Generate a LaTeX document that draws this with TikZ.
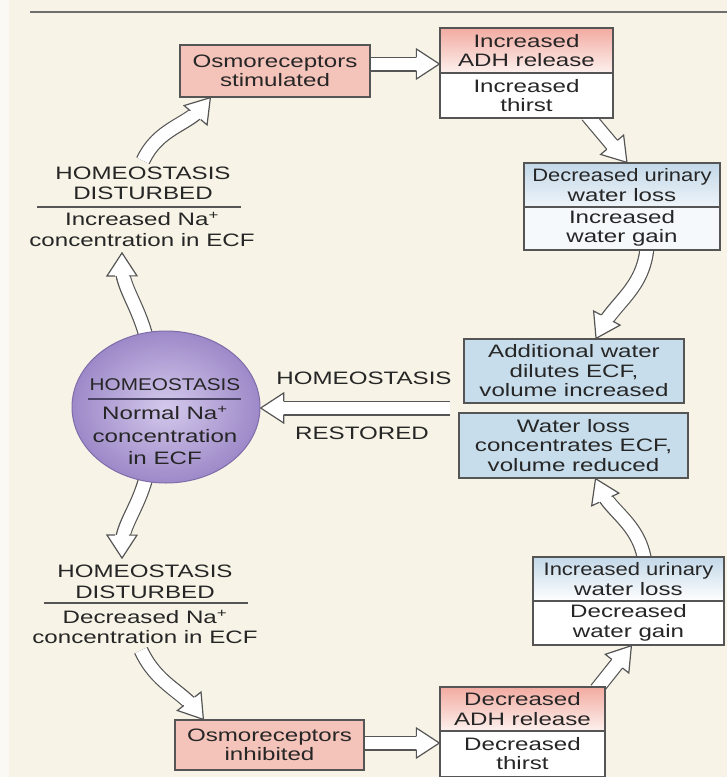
\documentclass[tikz,border=0pt]{standalone}
\usepackage{fontspec}
\setmainfont[FakeStretch=1.34]{Liberation Sans}
\newfontfamily\narrowfont[FakeStretch=1.22]{Liberation Sans}
\usetikzlibrary{shapes.geometric,decorations.markings,calc}
\definecolor{bgc}{HTML}{F7F3E6}
\definecolor{edgec}{HTML}{FBF9F3}
\definecolor{linec}{HTML}{555555}
\definecolor{rulec}{HTML}{6E6E6E}
\definecolor{txtc}{HTML}{262626}
\definecolor{pinkc}{HTML}{F4C3B9}
\definecolor{pinktop}{HTML}{F2ABA1}
\definecolor{pinklow}{HTML}{FDF1EE}
\definecolor{bluec}{HTML}{C8DDEB}
\definecolor{bluetop}{HTML}{C3D8E8}
\definecolor{bluelow}{HTML}{EEF4F9}
\definecolor{paleblue}{HTML}{F5F9FC}
\definecolor{purin}{HTML}{D4C9EC}
\definecolor{purout}{HTML}{9D89C8}
\definecolor{purline}{HTML}{7F6DAA}
\definecolor{purrule}{HTML}{4B4466}
\definecolor{arrline}{HTML}{555555}
\pgfdeclarelayer{back}
\pgfdeclarelayer{arr}
\pgfsetlayers{back,arr,main}
\tikzset{
  box/.style={draw=linec, line width=1.1pt, inner sep=0pt, align=center, text=txtc,
    font=\fontsize{18}{19.5}\selectfont},
  pinkbox/.style={box, fill=pinkc},
  bluebox/.style={box, fill=bluec},
  whitebox/.style={box, fill=white},
  txt/.style={inner sep=0pt, align=center, text=txtc, font=\fontsize{18}{20.5}\selectfont},
  barrow/.style={
    preaction={draw=arrline, line width=15pt, shorten >=13pt},
    preaction={draw=white, line width=12.6pt, shorten >=12pt},
    postaction={decorate, decoration={markings, mark=at position 0.999 with {
      \fill[white] (-23pt,-15pt) -- (0pt,0pt) -- (-23pt,15pt) -- cycle;
      \draw[arrline, line width=1.2pt, line join=miter]
        (-23pt,-6.9pt) -- (-23pt,-15pt) -- (0pt,0pt) -- (-23pt,15pt) -- (-23pt,6.9pt);
    }}}
  }
}
\begin{document}
\begin{tikzpicture}[x=1pt,y=-1pt]
\useasboundingbox (0,0) rectangle (727,777);
\begin{pgfonlayer}{back}
  \fill[bgc] (0,0) rectangle (727,777);
  \fill[edgec] (0,0) rectangle (9,777);
\end{pgfonlayer}
\draw[rulec, line width=2pt] (30,12) -- (727,12);

% boxes
\node[pinkbox, minimum width=190pt, minimum height=52pt] (osS) at (275,71) {Osmoreceptors\\stimulated};
\node[box, top color=pinktop, bottom color=pinklow, minimum width=173pt, minimum height=45pt] (adhI) at (526.5,50.5) {Increased\\ADH release};
\node[whitebox, minimum width=173pt, minimum height=45pt] (adhIb) at (526.5,95.5) {Increased\\thirst};
\node[box, top color=bluetop, bottom color=bluelow, minimum width=196pt, minimum height=44pt] (urinD) at (622,185) {{\narrowfont Decreased urinary}\\water loss};
\node[box, fill=paleblue, minimum width=196pt, minimum height=43pt] (urinDb) at (622,228.5) {Increased\\water gain};
\node[bluebox, minimum width=220pt, minimum height=64pt] (addW) at (574,371) {Additional water\\dilutes ECF,\\volume increased};
\node[bluebox, minimum width=229pt, minimum height=65pt] (lossW) at (573.5,445.5) {Water loss\\concentrates ECF,\\volume reduced};
\node[box, top color=bluetop, bottom color=white, minimum width=191pt, minimum height=44pt] (urinI) at (628.5,579) {{\narrowfont Increased urinary}\\water loss};
\node[whitebox, minimum width=191pt, minimum height=44pt] (urinIb) at (628.5,623) {Decreased\\water gain};
\node[box, top color=pinktop, bottom color=pinklow, minimum width=165pt, minimum height=44pt] (adhD) at (522.5,709) {Decreased\\ADH release};
\node[whitebox, minimum width=165pt, minimum height=45.5pt] (adhDb) at (522.5,753.75) {Decreased\\thirst};
\node[pinkbox, minimum width=189pt, minimum height=50pt] (osI) at (269.5,745) {Osmoreceptors\\inhibited};

% central ellipse
\node[ellipse, draw=purline, line width=1pt, inner color=purin, outer color=purout,
      minimum width=188pt, minimum height=152pt, inner sep=0pt] (ell) at (166,407) {};
\node[txt, font=\fontsize{17}{19}\narrowfont] (eT) at (165,385) {HOMEOSTASIS};
\draw[purrule, line width=1.2pt] (88,399) -- (241,399);
\node[txt, font=\fontsize{18}{22.5}\selectfont] (eB) at (165,435.5) {Normal Na\textsuperscript{+}\\concentration\\in ECF};

% side texts
\node[txt] (hu1) at (143,183.5) {HOMEOSTASIS\\DISTURBED};
\draw[linec, line width=1.1pt] (37,207) -- (241,207);
\node[txt] (hu2) at (142,229.5) {Increased Na\textsuperscript{+}\\concentration in ECF};
\node[txt] (hd1) at (145,582) {HOMEOSTASIS\\DISTURBED};
\draw[linec, line width=1.1pt] (44,603) -- (248,603);
\node[txt] (hd2) at (145,627) {Decreased Na\textsuperscript{+}\\concentration in ECF};
\node[txt] (hr1) at (364,378) {HOMEOSTASIS};
\node[txt] (hr2) at (362,433) {RESTORED};

\coordinate (hs) at ($(addW.south west)!0.5!(lossW.north west)$);

% arrows
\begin{pgfonlayer}{arr}
  \path[barrow] ([xshift=-3pt,yshift=7pt]osS.east) -- ([yshift=7pt]osS.east -| adhI.west);
  \path[barrow] ([xshift=-26pt,yshift=3pt]adhIb.south east) -- ([xshift=5pt]urinD.north);
  \path[barrow] ([xshift=25pt,yshift=3pt]urinDb.south) to[out=-95,in=62] ([xshift=22pt]addW.north);
  \path[barrow] ([xshift=-11pt]hs) -- (hs -| ell.east);
  \path[barrow] ([xshift=16pt,yshift=-3pt]urinI.north) to[out=100,in=-65] ([xshift=22pt]lossW.south);
  \path[barrow] ([xshift=-9pt,yshift=-3pt]adhD.north east) -- ([xshift=3pt]urinIb.south);
  \path[barrow] ([xshift=-3pt,yshift=2pt]osI.east) -- ([yshift=2pt]osI.east -| adhD.west);
  \path[barrow] ([yshift=-4pt]ell.105) to[out=105,in=-90] ([xshift=-20pt,yshift=-6pt]hu2.south);
  \path[barrow] ([yshift=6pt]hu1.north) to[out=65,in=-130] ([xshift=31pt]osS.south west);
  \path[barrow] ([yshift=4pt]ell.255) to[out=-105,in=90] ([xshift=-23pt,yshift=7pt]hd1.north);
  \path[barrow] ([xshift=-4pt,yshift=-6pt]hd2.south) to[out=-65,in=128] ([xshift=29pt]osI.north west);
\end{pgfonlayer}
\end{tikzpicture}
\end{document}
